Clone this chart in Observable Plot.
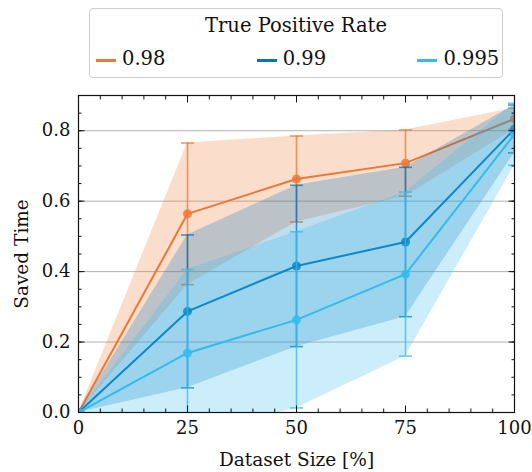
<!DOCTYPE html>
<html><head><meta charset="utf-8">
<script src="https://cdn.jsdelivr.net/npm/d3@7"></script>
<script src="https://cdn.jsdelivr.net/npm/@observablehq/plot@0.6"></script>
<style>
body{margin:0;background:#fff;font-family:"DejaVu Serif",serif;}
#wrap{position:relative;width:532px;height:472px;}
#legend{position:absolute;left:89px;top:8px;width:414px;height:70px;box-sizing:border-box;border:1.2px solid #cfcfcf;border-radius:4px;background:rgba(255,255,255,0.85);font-size:19.5px;line-height:20px;color:#111;}
#legend .title{position:absolute;left:0;right:0;top:7px;text-align:center;}
#legend .item{position:absolute;top:40px;white-space:nowrap;}
#legend .sw{position:absolute;top:10px;width:20px;height:3px;}
#legend .lab{position:absolute;left:26px;top:0;}
</style>
</head><body>
<div id="wrap"><div id="chart"></div><div id="legend"></div></div>
<script>
// ---- data ----
const xs = [0, 25, 50, 75, 100];
const seriesNames = ["0.98", "0.99", "0.995"];
const seriesColors = ["#EE7733", "#0077BB", "#33BBEE"];
const mean098 = [0, 0.564, 0.663, 0.708, 0.834];
const std098  = [0, 0.201, 0.122, 0.094, 0.030];
const mean099 = [0, 0.287, 0.416, 0.484, 0.805];
const std099  = [0, 0.217, 0.229, 0.212, 0.068];
const mean0995 = [0, 0.169, 0.263, 0.393, 0.790];
const std0995  = [0, 0.237, 0.250, 0.233, 0.088];
const xTicks = [0, 25, 50, 75, 100];
const yTicks = [0, 0.2, 0.4, 0.6, 0.8];
const yGrid = [0.2, 0.4, 0.6, 0.8];
const legendTitle = "True Positive Rate";
const xLabel = "Dataset Size [%]";
const yLabel = "Saved Time";

const means = [mean098, mean099, mean0995];
const stds = [std098, std099, std0995];
const xMinor = d3.range(0, 101, 5);
const yMinor = d3.range(0, 0.901, 0.05);

const capSymbol = {draw(ctx, size) { const w = Math.sqrt(size / Math.PI); ctx.moveTo(-w, 0); ctx.lineTo(w, 0); }};

const seriesMarks = [];
seriesNames.forEach((name, k) => {
  const rows = xs.map((x, i) => ({x, m: means[k][i], lo: means[k][i] - stds[k][i], hi: means[k][i] + stds[k][i]}));
  const c = seriesColors[k];
  seriesMarks.push(
    Plot.areaY(rows, {x: "x", y1: "lo", y2: "hi", fill: c, fillOpacity: 0.25, clip: true}),
    Plot.ruleX(rows, {x: "x", y1: "lo", y2: "hi", stroke: c, strokeWidth: 1.6, strokeOpacity: 0.75, clip: true}),
    Plot.dot(rows, {x: "x", y: "lo", symbol: capSymbol, r: 6.5, fill: "none", stroke: c, strokeWidth: 1.6, strokeOpacity: 0.75, clip: true}),
    Plot.dot(rows, {x: "x", y: "hi", symbol: capSymbol, r: 6.5, fill: "none", stroke: c, strokeWidth: 1.6, strokeOpacity: 0.75, clip: true}),
    Plot.line(rows, {x: "x", y: "m", stroke: c, strokeWidth: 2, clip: true}),
    Plot.dot(rows, {x: "x", y: "m", r: 4.5, fill: c, fillOpacity: 0.85, stroke: "none", clip: true})
  );
});

const blank = () => "";
const chart = Plot.plot({
  width: 532, height: 472,
  marginTop: 95, marginBottom: 60, marginLeft: 78, marginRight: 18,
  style: {fontFamily: "'DejaVu Serif', serif", fontSize: "18px", color: "#111", background: "transparent", overflow: "visible"},
  x: {domain: [0, 100], label: null},
  y: {domain: [0, 0.9], label: null},
  marks: [
    Plot.gridY(yGrid, {stroke: "#999", strokeOpacity: 0.75, strokeWidth: 1}),
    ...seriesMarks,
    Plot.axisX(xTicks, {anchor: "bottom", tickSize: 0, tickPadding: 9, tickFormat: d => String(d), label: null}),
    Plot.axisY(yTicks, {anchor: "left", tickSize: 0, tickPadding: 8, tickFormat: d3.format(".1f"), label: null}),
    Plot.axisX(xTicks, {anchor: "bottom", tickSize: -6.5, tickFormat: blank, label: null}),
    Plot.axisX(xTicks, {anchor: "top", tickSize: -6.5, tickFormat: blank, label: null}),
    Plot.axisX(xMinor, {anchor: "bottom", tickSize: -3.5, tickFormat: blank, label: null}),
    Plot.axisX(xMinor, {anchor: "top", tickSize: -3.5, tickFormat: blank, label: null}),
    Plot.axisY(yTicks, {anchor: "left", tickSize: -6.5, tickFormat: blank, label: null}),
    Plot.axisY(yTicks, {anchor: "right", tickSize: -6.5, tickFormat: blank, label: null}),
    Plot.axisY(yMinor, {anchor: "left", tickSize: -3.5, tickFormat: blank, label: null}),
    Plot.axisY(yMinor, {anchor: "right", tickSize: -3.5, tickFormat: blank, label: null}),
    Plot.frame({stroke: "#111", strokeWidth: 1.2}),
    Plot.text([xLabel], {frameAnchor: "bottom", textAnchor: "middle", lineAnchor: "middle", dy: 48, fontSize: 18.5, fill: "#111"}),
    Plot.text([yLabel], {frameAnchor: "left", textAnchor: "middle", lineAnchor: "middle", dx: -56, rotate: -90, fontSize: 18.5, fill: "#111"})
  ]
});
document.getElementById("chart").appendChild(chart);

// legend
const lg = document.getElementById("legend");
const t = document.createElement("div"); t.className = "title"; t.textContent = legendTitle; lg.appendChild(t);
seriesNames.forEach((name, k) => {
  const it = document.createElement("div"); it.className = "item"; it.style.left = (6 + k * 160.7) + "px";
  const sw = document.createElement("span"); sw.className = "sw"; sw.style.background = seriesColors[k];
  const lb = document.createElement("span"); lb.className = "lab"; lb.textContent = name;
  it.appendChild(sw); it.appendChild(lb); lg.appendChild(it);
});
</script>
</body></html>
